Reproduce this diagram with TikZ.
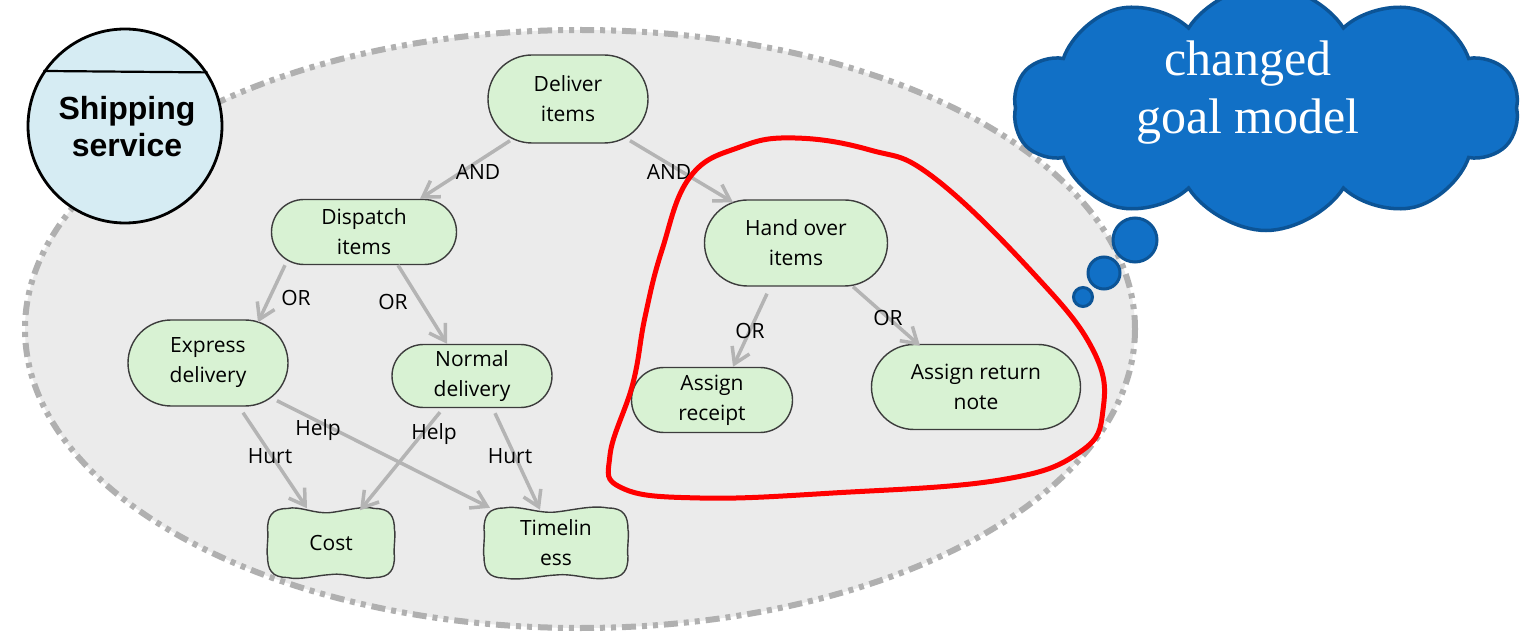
\documentclass[tikz,border=0pt]{standalone}
\usepackage{fontspec}
\setsansfont{Open Sans}
\newfontfamily\shipfont{Liberation Sans}
\newfontfamily\cloudfont{Liberation Serif}
\usetikzlibrary{shapes.misc,shapes.symbols,arrows.meta}
\definecolor{goalfill}{HTML}{D8F2D3}
\definecolor{goalline}{HTML}{3C3C3C}
\definecolor{linkgray}{HTML}{B4B4B4}
\definecolor{ellfill}{HTML}{EBEBEB}
\definecolor{ellline}{HTML}{B0B0B0}
\definecolor{shipfill}{HTML}{D6ECF3}
\definecolor{cloudfill}{HTML}{1170C6}
\definecolor{cloudline}{HTML}{0C5496}
\newcommand\softshape[4]{%
 \begin{scope}[shift={(#1,#2)}]
 \draw[softline] (-#3+20,-#4) .. controls (-#3/2,-#4-3) and (-#3/4,-#4+6) .. (0,-#4+4)
   .. controls (#3/4,-#4+2) and (#3/2,-#4-3) .. (#3-20,-#4)
   .. controls (#3-4,-#4) and (#3,-#4+8) .. (#3,-#4+22)
   .. controls (#3+1.5,-#4/3) and (#3-1.5,#4/3) .. (#3,#4-22)
   .. controls (#3,#4-8) and (#3-4,#4) .. (#3-20,#4)
   .. controls (#3/2,#4+3) and (#3/4,#4-5) .. (0,#4-3)
   .. controls (-#3/4,#4-2) and (-#3/2,#4+3) .. (-#3+20,#4)
   .. controls (-#3+4,#4) and (-#3,#4-8) .. (-#3,#4-22)
   .. controls (-#3-1.5,#4/3) and (-#3+1.5,-#4/3) .. (-#3,-#4+22)
   .. controls (-#3,-#4+8) and (-#3+4,-#4) .. cycle;
 \end{scope}}
\begin{document}
\begin{tikzpicture}[x=1pt,y=-1pt,
  goal/.style={rounded rectangle, draw=goalline, fill=goalfill, line width=1.4pt,
    inner sep=0pt, align=center, font=\sffamily\fontsize{21}{30}\selectfont},
  softline/.style={draw=goalline, fill=goalfill, line width=1.4pt},
  softtext/.style={inner sep=0pt, align=center, font=\sffamily\fontsize{21}{30}\selectfont},
  link/.style={draw=linkgray, line width=3.5pt, -{Straight Barb[angle=64:18pt,line width=3.5pt]}},
  lbl/.style={inner sep=0pt, font=\sffamily\fontsize{21}{25}\selectfont},
  bubble/.style={circle, draw=cloudline, fill=cloudfill, line width=3pt, inner sep=0pt}]
\useasboundingbox (0,0) rectangle (1524,644);
\clip (0,0) rectangle (1524,644);
\fill[white] (0,0) rectangle (1524,644);
% boundary
\draw[fill=ellfill, draw=ellline, line width=6pt,
  dash pattern=on 14pt off 6pt on 5pt off 6pt on 5pt off 6pt]
  (580,329) ellipse [x radius=555, y radius=299];
% actor
\node[circle, draw=black, fill=shipfill, line width=2.8pt, minimum size=194pt, inner sep=0pt] (ship) at (125,126) {};
\draw[line width=2.2pt] (ship.146.9) -- (ship.33.1);
\node[font=\shipfont\bfseries\fontsize{32}{37}\selectfont, align=center, inner sep=0pt] (shiptext) at (127,127) {Shipping\\service};
% goals
\node[goal, minimum width=160pt, minimum height=88pt] (deliver) at (568,99) {Deliver\\items};
\node[goal, minimum width=185pt, minimum height=65pt] (dispatch) at (364,232) {Dispatch\\items};
\node[goal, minimum width=160pt, minimum height=86pt] (express) at (208,363) {Express\\delivery};
\node[goal, minimum width=160pt, minimum height=63pt] (normal) at (472,376) {Normal\\delivery};
\node[goal, minimum width=183pt, minimum height=86pt] (handover) at (796,243) {Hand over\\items};
\node[goal, minimum width=161pt, minimum height=65pt] (receipt) at (712,400) {Assign\\receipt};
\node[goal, minimum width=209pt, minimum height=85pt] (returnnote) at (976,387) {Assign return\\note};
% softgoals
\softshape{331}{543}{63.5}{34.5}
\softshape{556}{543}{72}{35}
\node[softtext, minimum width=127pt, minimum height=69pt] (cost) at (331,543) {Cost};
\node[softtext, minimum width=144pt, minimum height=70pt] (timeliness) at (556,543) {Timelin\\ess};
% links
\draw[link] ([xshift=-58pt,yshift=3pt]deliver.south) -- ([xshift=56pt]dispatch.north);
\draw[link] ([xshift=62pt,yshift=3pt]deliver.south) -- ([xshift=-63pt,yshift=-3pt]handover.north);
\draw[link] ([xshift=-79pt]dispatch.south) -- ([xshift=50pt,yshift=-3pt]express.north);
\draw[link] ([xshift=34pt]dispatch.south) -- ([xshift=-25pt]normal.north);
\draw[link] ([xshift=35pt,yshift=-6pt]express.south) -- ([xshift=-24pt]cost.north);
\draw[link] ([xshift=69pt,yshift=6pt]express.south) -- ([xshift=-66pt]timeliness.north);
\draw[link] ([xshift=-32pt,yshift=-4pt]normal.south) -- ([xshift=29pt,yshift=-2pt]cost.north);
\draw[link] ([xshift=23pt,yshift=-5pt]normal.south) -- ([xshift=-16pt,yshift=-2pt]timeliness.north);
\draw[link] ([xshift=-29pt,yshift=-7pt]handover.south) -- ([xshift=21pt]receipt.north);
\draw[link] ([xshift=57pt]handover.south) -- ([xshift=-56pt,yshift=-2pt]returnnote.north);
% labels
\node[lbl] (l1) at (478,172) {AND};
\node[lbl] (l2) at (669,172) {AND};
\node[lbl] (l3) at (296,298) {OR};
\node[lbl] (l4) at (393,302) {OR};
\node[lbl] (l5) at (270,456) {Hurt};
\node[lbl] (l6) at (318,430) {Help};
\node[lbl] (l7) at (434,434) {Help};
\node[lbl] (l8) at (510,456) {Hurt};
\node[lbl] (l9) at (750,331) {OR};
\node[lbl] (l10) at (888,318) {OR};
% red loop
\draw[red, line width=5pt] plot[smooth cycle, tension=0.7] coordinates
  {(662,250) (690,177) (740,147) (795,138) (870,150) (933,177) (1033,273) (1093,350)
   (1103,410) (1080,452) (1000,480) (833,493) (700,498) (622,488) (610,455) (633,383) (645,317)};
% thought cloud
\node[cloud, cloud puffs=10, cloud puff arc=115, aspect=2.1, draw=cloudline, fill=cloudfill,
  line width=3.5pt, minimum width=505pt, minimum height=245pt, inner sep=0pt] (cloud) at (1266,108) {};
\node[font=\cloudfont\fontsize{50}{58}\selectfont, text=white, align=center, inner sep=0pt] (cloudtext) at (1248,93) {changed\\goal model};
\node[bubble, minimum size=44pt] (b1) at (1135,240) {};
\node[bubble, minimum size=32pt] (b2) at (1104,273) {};
\node[bubble, minimum size=19pt] (b3) at (1083,297) {};
\end{tikzpicture}
\end{document}
